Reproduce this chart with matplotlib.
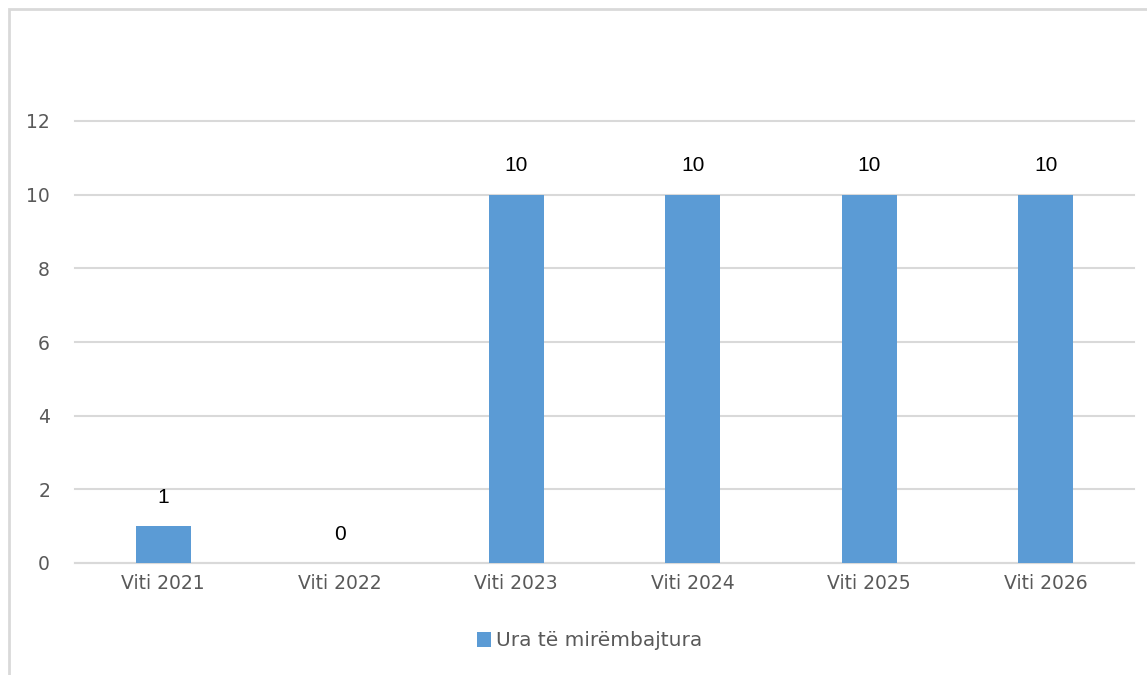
import matplotlib
matplotlib.use("Agg")
import matplotlib.pyplot as plt
from matplotlib.patches import Rectangle

categories = ["Viti 2021", "Viti 2022", "Viti 2023", "Viti 2024", "Viti 2025", "Viti 2026"]
values = [1, 0, 10, 10, 10, 10]
series_name = "Ura të mirëmbajtura"
yticks = [0, 2, 4, 6, 8, 10, 12]

W, H = 1147, 675
fig = plt.figure(figsize=(W / 100, H / 100), dpi=100)
ax = fig.add_axes([75 / W, 1 - 563 / H, (1134 - 75) / W, (563 - 121) / H])

bar_color = "#5B9BD5"
x = list(range(len(categories)))
bars = ax.bar(x, values, width=0.31, color=bar_color, label=series_name, zorder=3)

for xi, v in zip(x, values):
    ax.annotate(str(v), (xi, v), xytext=(0, 14), textcoords="offset points",
                ha="center", va="bottom", fontsize=15, color="black",
                family="Liberation Sans")

ax.set_ylim(0, 12)
ax.set_xlim(-0.5, len(categories) - 0.5)
ax.set_yticks(yticks)
ax.set_yticklabels([str(t) for t in yticks])
ax.set_xticks(x)
ax.set_xticklabels(categories)
ax.tick_params(axis="both", length=0, labelsize=13.5, colors="#595959")
ax.tick_params(axis="y", pad=18)
ax.tick_params(axis="x", pad=8)
for lab in ax.get_xticklabels() + ax.get_yticklabels():
    lab.set_family("DejaVu Sans")

ax.grid(axis="y", color="#d9d9d9", linewidth=1.5, zorder=0)
for gl in ax.get_ygridlines():
    gl.set_clip_on(False)
for s in ["top", "right", "left"]:
    ax.spines[s].set_visible(False)
ax.spines["bottom"].set_color("#d9d9d9")
ax.spines["bottom"].set_linewidth(1.5)

leg = fig.legend(loc="center", bbox_to_anchor=(590 / W, 1 - 641 / H), frameon=False,
                 fontsize=14.5, handlelength=0.7, handleheight=0.7, handletextpad=0.25)
for t in leg.get_texts():
    t.set_color("#595959")

fig.patches.append(Rectangle((9 / W, -0.05), 1.1, 1 - 9 / H + 0.05, transform=fig.transFigure,
                             fill=False, edgecolor="#d9d9d9", linewidth=2))

fig.savefig("out.png", dpi=100)
